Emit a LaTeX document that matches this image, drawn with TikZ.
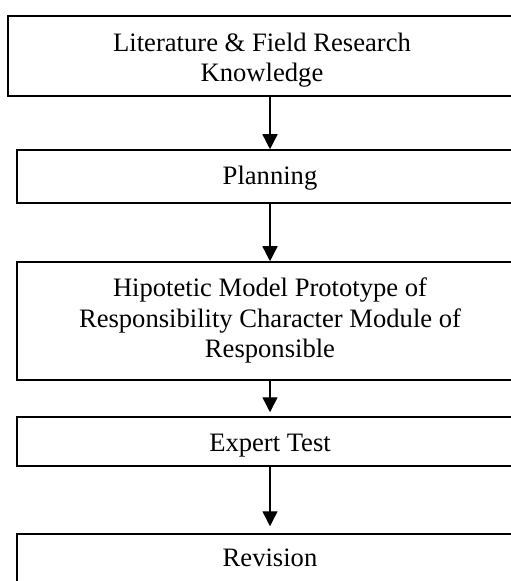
\documentclass[tikz,border=0pt]{standalone}
\usepackage{fontspec}
\setmainfont{Liberation Serif}
\usetikzlibrary{positioning,arrows.meta}

\begin{document}
\begin{tikzpicture}[x=0.5pt,y=-0.5pt,
  box/.style={draw, line width=0.75pt, inner sep=0pt, align=center, minimum height=#1, text depth=0pt, font=\fontsize{13.3}{15.25}\selectfont},
  flow/.style={-{Triangle[width=7.5pt,length=7.5pt]}, line width=0.7pt}]
\useasboundingbox (0,0) rectangle (510,581);
\node[box=40pt, minimum width=254pt, text height=25.7pt] (lit) at (262,56) {Literature \& Field Research\\Knowledge};
\node[box=26.5pt, minimum width=253pt, text height=8.5pt] (plan) at (270,176.5) {Planning};
\node[box=59pt, minimum width=253pt, text height=36.7pt] (model) at (270,321) {Hipotetic Model Prototype of\\Responsibility Character Module of\\Responsible};
\node[box=24.5pt, minimum width=253pt, text height=10.2pt] (expert) at (270,441.5) {Expert Test};
\node[box=25pt, minimum width=253pt, text height=7.7pt] (rev) at (270,559) {Revision};
\draw[flow] (lit.south -| plan.north) -- (plan.north);
\draw[flow] (plan) -- (model);
\draw[flow] (model) -- ([yshift=2pt]expert.north);
\draw[flow] (expert) -- ([yshift=3.5pt]rev.north);
\end{tikzpicture}
\end{document}
